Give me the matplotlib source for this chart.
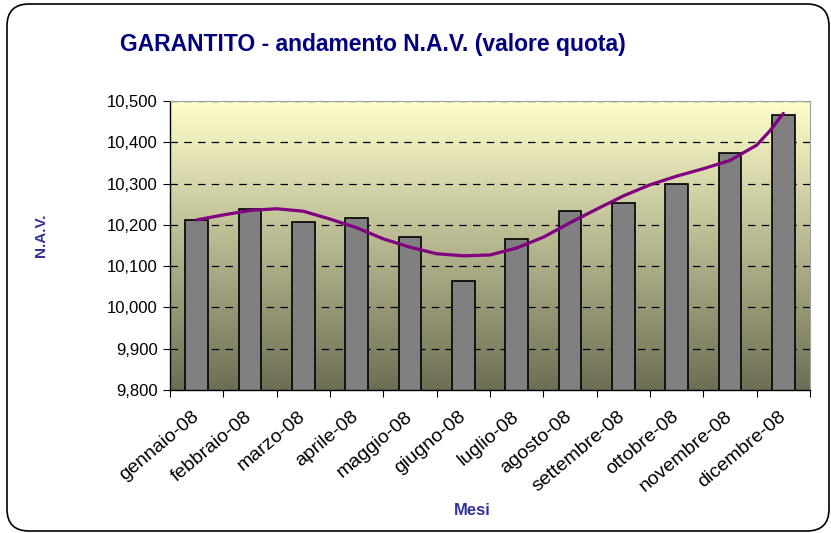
import numpy as np
import matplotlib.pyplot as plt
from matplotlib.patches import FancyBboxPatch
from matplotlib.colors import LinearSegmentedColormap
from matplotlib.ticker import FuncFormatter, FixedLocator
from matplotlib.transforms import IdentityTransform, ScaledTranslation

plt.rcParams['font.family'] = ['Liberation Sans', 'DejaVu Sans']

months = ["gennaio-08", "febbraio-08", "marzo-08", "aprile-08", "maggio-08",
          "giugno-08", "luglio-08", "agosto-08", "settembre-08", "ottobre-08",
          "novembre-08", "dicembre-08"]
nav = [10212, 10238, 10208, 10216, 10171, 10065,
       10166, 10234, 10253, 10298, 10375, 10465]

# smoothed trend line, read at half-month steps
trend_x = [0, 0.5, 1, 1.5, 2, 2.5, 3, 3.5, 4, 4.5, 5, 5.5, 6, 6.5, 7, 7.5,
           8, 8.5, 9, 9.5, 10, 10.5, 10.75, 11]
trend_y = [10212, 10224, 10235, 10239, 10233, 10214, 10193, 10166, 10146,
           10130, 10125, 10127, 10144, 10170, 10205, 10238, 10270, 10297,
           10318, 10336, 10356, 10393, 10428, 10470]

fig = plt.figure(figsize=(8.31, 5.33), dpi=100)
ax = fig.add_axes([0.2046, 0.2683, 0.7701, 0.5422])

# gradient plot area
cmap = LinearSegmentedColormap.from_list("bg", ["#FFFFCC", "#6E6E54"])
grad = np.linspace(0, 1, 256).reshape(-1, 1)
ax.imshow(grad, cmap=cmap, aspect="auto", extent=[0, 1, 0, 1],
          transform=ax.transAxes, zorder=0, interpolation="bilinear")

x = np.arange(len(months))
ax.bar(x, nav, width=0.42, color="#808080", edgecolor="black",
       linewidth=1.2, zorder=2)
ax.plot(trend_x, trend_y, color="#800080", linewidth=2.3, zorder=3,
        solid_capstyle="round")

ax.set_xlim(-0.5, 11.5)
ax.set_ylim(9800, 10500)
ax.set_yticks(np.arange(9800, 10501, 100))
ax.yaxis.set_major_formatter(FuncFormatter(lambda v, p: "{:,.0f}".format(v)))
ax.tick_params(axis="y", direction="out", length=5, labelsize=12, pad=4)

ax.xaxis.set_major_locator(FixedLocator(np.arange(-0.5, 12, 1)))
ax.xaxis.set_minor_locator(FixedLocator(x))
ax.set_xticklabels([], minor=False)
ax.set_xticklabels(months, minor=True, rotation=40, ha="right",
                   rotation_mode="anchor", fontsize=14)
ax.tick_params(axis="x", which="major", direction="out", length=5)
ax.tick_params(axis="x", which="minor", length=0, pad=13)
shift = ScaledTranslation(-4 / 72, 0, fig.dpi_scale_trans)
for lab in ax.get_xticklabels(minor=True):
    lab.set_transform(lab.get_transform() + shift)

ax.set_axisbelow(True)
ax.yaxis.grid(True, color="black", linestyle=(0, (6, 5)), linewidth=0.9)

for s in ["top", "right"]:
    ax.spines[s].set_color("#A0A0A0")
    ax.spines[s].set_linewidth(0.8)
for s in ["left", "bottom"]:
    ax.spines[s].set_color("black")
    ax.spines[s].set_linewidth(1.0)

fig.text(0.449, 0.917, "GARANTITO - andamento N.A.V. (valore quota)",
         ha="center", va="center", fontsize=16.5, fontweight="bold",
         color="#000080")
fig.text(0.049, 0.559, "N.A.V.", rotation=90, ha="center", va="center",
         fontsize=11, fontweight="bold", color="#333399")
fig.text(0.568, 0.043, "Mesi", ha="center", va="center", fontsize=12,
         fontweight="bold", color="#333399")

frame = FancyBboxPatch((7, 2), 822, 527,
                       boxstyle="round,pad=0,rounding_size=22",
                       transform=IdentityTransform(), facecolor="none",
                       edgecolor="black", linewidth=1.2)
fig.patches.append(frame)

fig.savefig("out.png", dpi=100)
